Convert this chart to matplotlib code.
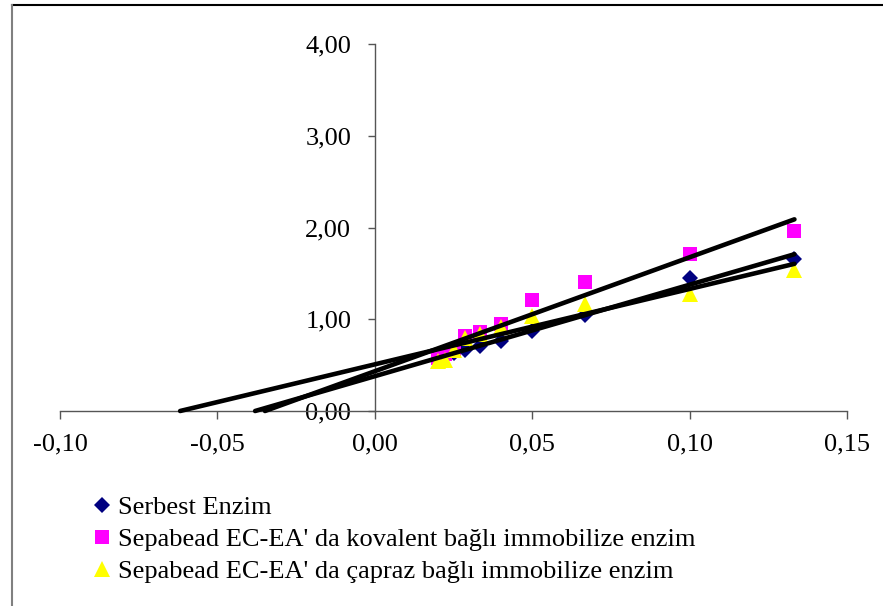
import numpy as np
import matplotlib
matplotlib.use("Agg")
import matplotlib.pyplot as plt
from matplotlib.lines import Line2D
from matplotlib.ticker import FuncFormatter

# 1/[S] values and 1/V values for each enzyme form
x_serbest = [0.0222, 0.025, 0.0286, 0.0333, 0.04, 0.05, 0.0667, 0.10, 0.1333]
y_serbest = [0.60, 0.63, 0.66, 0.71, 0.76, 0.87, 1.05, 1.45, 1.66]

x_kovalent = [0.02, 0.0222, 0.025, 0.0286, 0.0333, 0.04, 0.05, 0.0667, 0.10, 0.1333]
y_kovalent = [0.58, 0.62, 0.66, 0.82, 0.86, 0.95, 1.21, 1.41, 1.71, 1.96]

x_capraz = [0.02, 0.0222, 0.025, 0.0286, 0.0333, 0.04, 0.05, 0.0667, 0.10, 0.1333]
y_capraz = [0.54, 0.56, 0.66, 0.80, 0.84, 0.92, 1.04, 1.17, 1.28, 1.54]

labels = [
    "Serbest Enzim",
    "Sepabead EC-EA' da kovalent bağlı immobilize enzim",
    "Sepabead EC-EA' da çapraz bağlı immobilize enzim",
]
x_ticks = [-0.10, -0.05, 0.00, 0.05, 0.10, 0.15]
y_ticks = [0.0, 1.0, 2.0, 3.0, 4.0]

plt.rcParams['font.family'] = ['Liberation Serif', 'DejaVu Serif']

W, H = 883, 606
fig = plt.figure(figsize=(W / 100, H / 100), dpi=100)
ax = fig.add_axes([60 / W, 195 / H, 787 / W, 367 / H])

series = [
    (x_serbest, y_serbest, 'D', '#000080', 8.5),
    (x_kovalent, y_kovalent, 's', '#FF00FF', 10.5),
    (x_capraz, y_capraz, '^', '#FFFF00', 11.5),
]

handles = []
for (xs, ys, m, c, ms), lab in zip(series, labels):
    h, = ax.plot(xs, ys, linestyle='none', marker=m, color=c, markersize=ms,
                 markeredgewidth=0, label=lab, zorder=3, clip_on=False)
    handles.append(h)

# Linear trend lines, extended back to the x-axis intercept
for xs, ys, *_ in series:
    a, b = np.polyfit(xs, ys, 1)
    x0 = -b / a
    x1 = max(xs)
    ax.plot([x0, x1], [a * x0 + b, a * x1 + b], color='black', lw=3.3,
            solid_capstyle='round', zorder=4, clip_on=False)

ax.set_xlim(-0.10, 0.15)
ax.set_ylim(0, 4)

ax.spines['left'].set_position(('data', 0))
ax.spines['bottom'].set_position(('data', 0))
ax.spines['top'].set_visible(False)
ax.spines['right'].set_visible(False)
for s in ('left', 'bottom'):
    ax.spines[s].set_color('#555555')
    ax.spines[s].set_linewidth(1.0)

fmt = FuncFormatter(lambda v, p: f"{v:.2f}".replace('.', ','))
ax.set_xticks(x_ticks)
ax.set_yticks(y_ticks)
ax.xaxis.set_major_formatter(fmt)
ax.yaxis.set_major_formatter(fmt)
ax.tick_params(axis='x', direction='out', length=6, width=1, color='#555555',
               labelsize=19, pad=10)
ax.tick_params(axis='y', direction='out', length=5, width=1, color='#555555',
               labelsize=19, pad=12)
ax.patch.set_visible(False)

fig.legend(handles=handles, labels=labels, loc='upper left',
           bbox_to_anchor=(93 / W, 1 - 496 / H), frameon=False,
           fontsize=19, handlelength=0.7, handletextpad=0.25,
           borderpad=0, borderaxespad=0, labelspacing=0.32, markerscale=1.0)

# Outer frame edges
fig.add_artist(Line2D([12 / W, 1.0], [1 - 5 / H, 1 - 5 / H], color='black',
                      lw=1.5, transform=fig.transFigure))
fig.add_artist(Line2D([12 / W, 12 / W], [0, 1 - 5 / H], color='#808080',
                      lw=1.5, transform=fig.transFigure))

fig.savefig('out.png', dpi=100)
